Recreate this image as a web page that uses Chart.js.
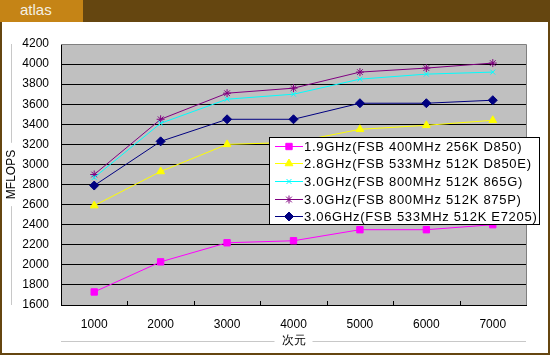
<!DOCTYPE html>
<html><head><meta charset="utf-8">
<script src="https://cdn.jsdelivr.net/npm/chart.js@4/dist/chart.umd.min.js"></script>
<style>
html,body{margin:0;padding:0;background:#fff;}
#wrap{position:relative;width:550px;height:355px;background:#fff;overflow:hidden;}
#banner{position:absolute;left:0;top:0;width:550px;height:22px;background:#654610;}
#tab{position:absolute;left:0;top:0;width:83px;height:22px;background:#C58416;color:#F4F0E4;font:15px "Liberation Sans",Arial,sans-serif;line-height:22px;}
#tab span{position:absolute;left:20px;top:-1px;}
#bl{position:absolute;left:0;top:22px;width:2px;height:333px;background:#654610;}
#br{position:absolute;left:548px;top:22px;width:2px;height:333px;background:#654610;}
#bb{position:absolute;left:0;top:353px;width:550px;height:2px;background:#654610;}
canvas{position:absolute;left:0;top:0;}
</style></head>
<body><div id="wrap">
<canvas id="c" width="550" height="355"></canvas>
<div id="banner"></div><div id="tab"><span>atlas</span></div>
<div id="bl"></div><div id="br"></div><div id="bb"></div>
</div>
<script>
const categories = ['1000','2000','3000','4000','5000','6000','7000'];
const seriesNames = [
  '1.9GHz(FSB 400MHz 256K D850)',
  '2.8GHz(FSB 533MHz 512K D850E)',
  '3.0GHz(FSB 800MHz 512K 865G)',
  '3.0GHz(FSB 800MHz 512K 875P)',
  '3.06GHz(FSB 533MHz 512K E7205)'
];
const s19_d850   = [1730, 2030, 2220, 2240, 2350, 2350, 2400];
const s28_d850e  = [2590, 2930, 3200, 3220, 3350, 3390, 3440];
const s30_865g   = [2870, 3410, 3650, 3700, 3850, 3900, 3920];
const s30_875p   = [2900, 3450, 3710, 3760, 3920, 3960, 4010];
const s306_e7205 = [2790, 3230, 3450, 3450, 3610, 3610, 3640];
const yTicks = [1600,1800,2000,2200,2400,2600,2800,3000,3200,3400,3600,3800,4000,4200];
const xTitle = '次元';
const yTitle = 'MFLOPS';

const FONT = '"Liberation Sans", Arial, sans-serif';
const colors = ['#FF00FF','#FFFF00','#00FFFF','#800080','#000080'];
const styles = ['rect','triangle','crossRot','star','rectRot'];
const radii = [4.5,4.5,3.5,4,4.5];
const values = [s19_d850, s28_d850e, s30_865g, s30_875p, s306_e7205];

const datasets = values.map((v,i)=>({
  label: seriesNames[i], data: v,
  borderColor: colors[i], backgroundColor: colors[i],
  borderWidth: 1, pointStyle: styles[i], pointRadius: radii[i],
  pointBorderWidth: 1, pointBorderColor: colors[i], pointBackgroundColor: colors[i],
  tension: 0
}));

const deco = {
  id: 'deco',
  beforeDraw(chart){
    const {ctx, chartArea:a} = chart;
    ctx.save();
    ctx.fillStyle = '#C0C0C0';
    ctx.fillRect(a.left, a.top, a.right-a.left, a.bottom-a.top);
    ctx.restore();
  },
  afterDatasetsDraw(chart){
    const {ctx, chartArea:a} = chart;
    ctx.save();
    ctx.strokeStyle = '#808080'; ctx.lineWidth = 1;
    ctx.beginPath();
    ctx.moveTo(a.left, a.top+0.5); ctx.lineTo(a.right+0.5, a.top+0.5); ctx.lineTo(a.right+0.5, a.bottom);
    ctx.stroke();
    const xs = chart.scales.x;
    ctx.strokeStyle = '#000';
    ctx.beginPath();
    for (let i=1;i<categories.length;i++){
      const x = Math.round((xs.getPixelForValue(i-1)+xs.getPixelForValue(i))/2)+0.5;
      ctx.moveTo(x, a.bottom); ctx.lineTo(x, a.bottom-4);
    }
    ctx.stroke();
    ctx.font = '12px ' + FONT;
    ctx.fillStyle = '#000';
    ctx.textAlign = 'center'; ctx.textBaseline = 'middle';
    const cx = (a.left+a.right)/2, ty = 341;
    const tw = ctx.measureText(xTitle).width;
    ctx.fillText(xTitle, cx, ty);
    ctx.strokeStyle = '#C8C8C8';
    ctx.beginPath();
    ctx.moveTo(a.left, ty+0.5); ctx.lineTo(cx - tw/2 - 7, ty+0.5);
    ctx.moveTo(cx + tw/2 + 7, ty+0.5); ctx.lineTo(a.right, ty+0.5);
    ctx.stroke();
    const cy = (a.top+a.bottom)/2, tx = 11;
    const th = ctx.measureText(yTitle).width;
    ctx.save(); ctx.translate(tx+1, cy); ctx.rotate(-Math.PI/2);
    ctx.fillText(yTitle, 0, 0); ctx.restore();
    ctx.beginPath();
    ctx.moveTo(tx+0.5, a.top); ctx.lineTo(tx+0.5, cy - th/2 - 7);
    ctx.moveTo(tx+0.5, cy + th/2 + 7); ctx.lineTo(tx+0.5, a.bottom);
    ctx.stroke();
    const L = 269, T = 137, R = 540, B = 225;
    ctx.fillStyle = '#fff';
    ctx.fillRect(L, T, R-L, B-T);
    ctx.strokeStyle = '#000';
    ctx.strokeRect(L+0.5, T+0.5, R-L-1, B-T-1);
    const rowH = (B-T)/5;
    chart.data.datasets.forEach((ds,i)=>{
      const y = Math.round(T + rowH*(i+0.5)) + 0.5;
      ctx.strokeStyle = ds.borderColor; ctx.lineWidth = 1;
      ctx.beginPath(); ctx.moveTo(275, y); ctx.lineTo(303, y); ctx.stroke();
      ctx.fillStyle = ds.pointBackgroundColor;
      Chart.helpers.drawPoint(ctx, {pointStyle: ds.pointStyle, radius: ds.pointRadius, rotation: 0, borderWidth: 1}, 289, y);
      ctx.fillStyle = '#000';
      ctx.font = '13px ' + FONT;
      ctx.letterSpacing = '0.7px';
      ctx.textAlign = 'left'; ctx.textBaseline = 'middle';
      ctx.fillText(ds.label, 304, y+1);
      ctx.letterSpacing = '0px';
    });
    ctx.restore();
  }
};

new Chart(document.getElementById('c'), {
  type: 'line',
  data: { labels: categories, datasets },
  options: {
    responsive: false, animation: false,
    layout: { padding: { left: 0, top: 44, right: 24, bottom: 0 } },
    plugins: { legend: { display: false }, tooltip: { enabled: false } },
    scales: {
      x: {
        offset: true,
        grid: { display: false, drawTicks: false },
        border: { color: '#000', width: 1 },
        ticks: { color: '#000', font: { size: 12, family: FONT }, padding: 12, maxRotation: 0 },
        afterFit(s){ s.height = 50; }
      },
      y: {
        min: 1600, max: 4200,
        afterBuildTicks(s){ s.ticks = yTicks.map(v=>({value:v})); },
        grid: { color: '#000', drawTicks: false },
        border: { color: '#000', width: 1 },
        ticks: { color: '#000', font: { size: 12, family: FONT }, padding: 12, callback: v => String(v) },
        afterFit(s){ s.width = 61; }
      }
    }
  },
  plugins: [deco]
});
</script>
</body></html>
